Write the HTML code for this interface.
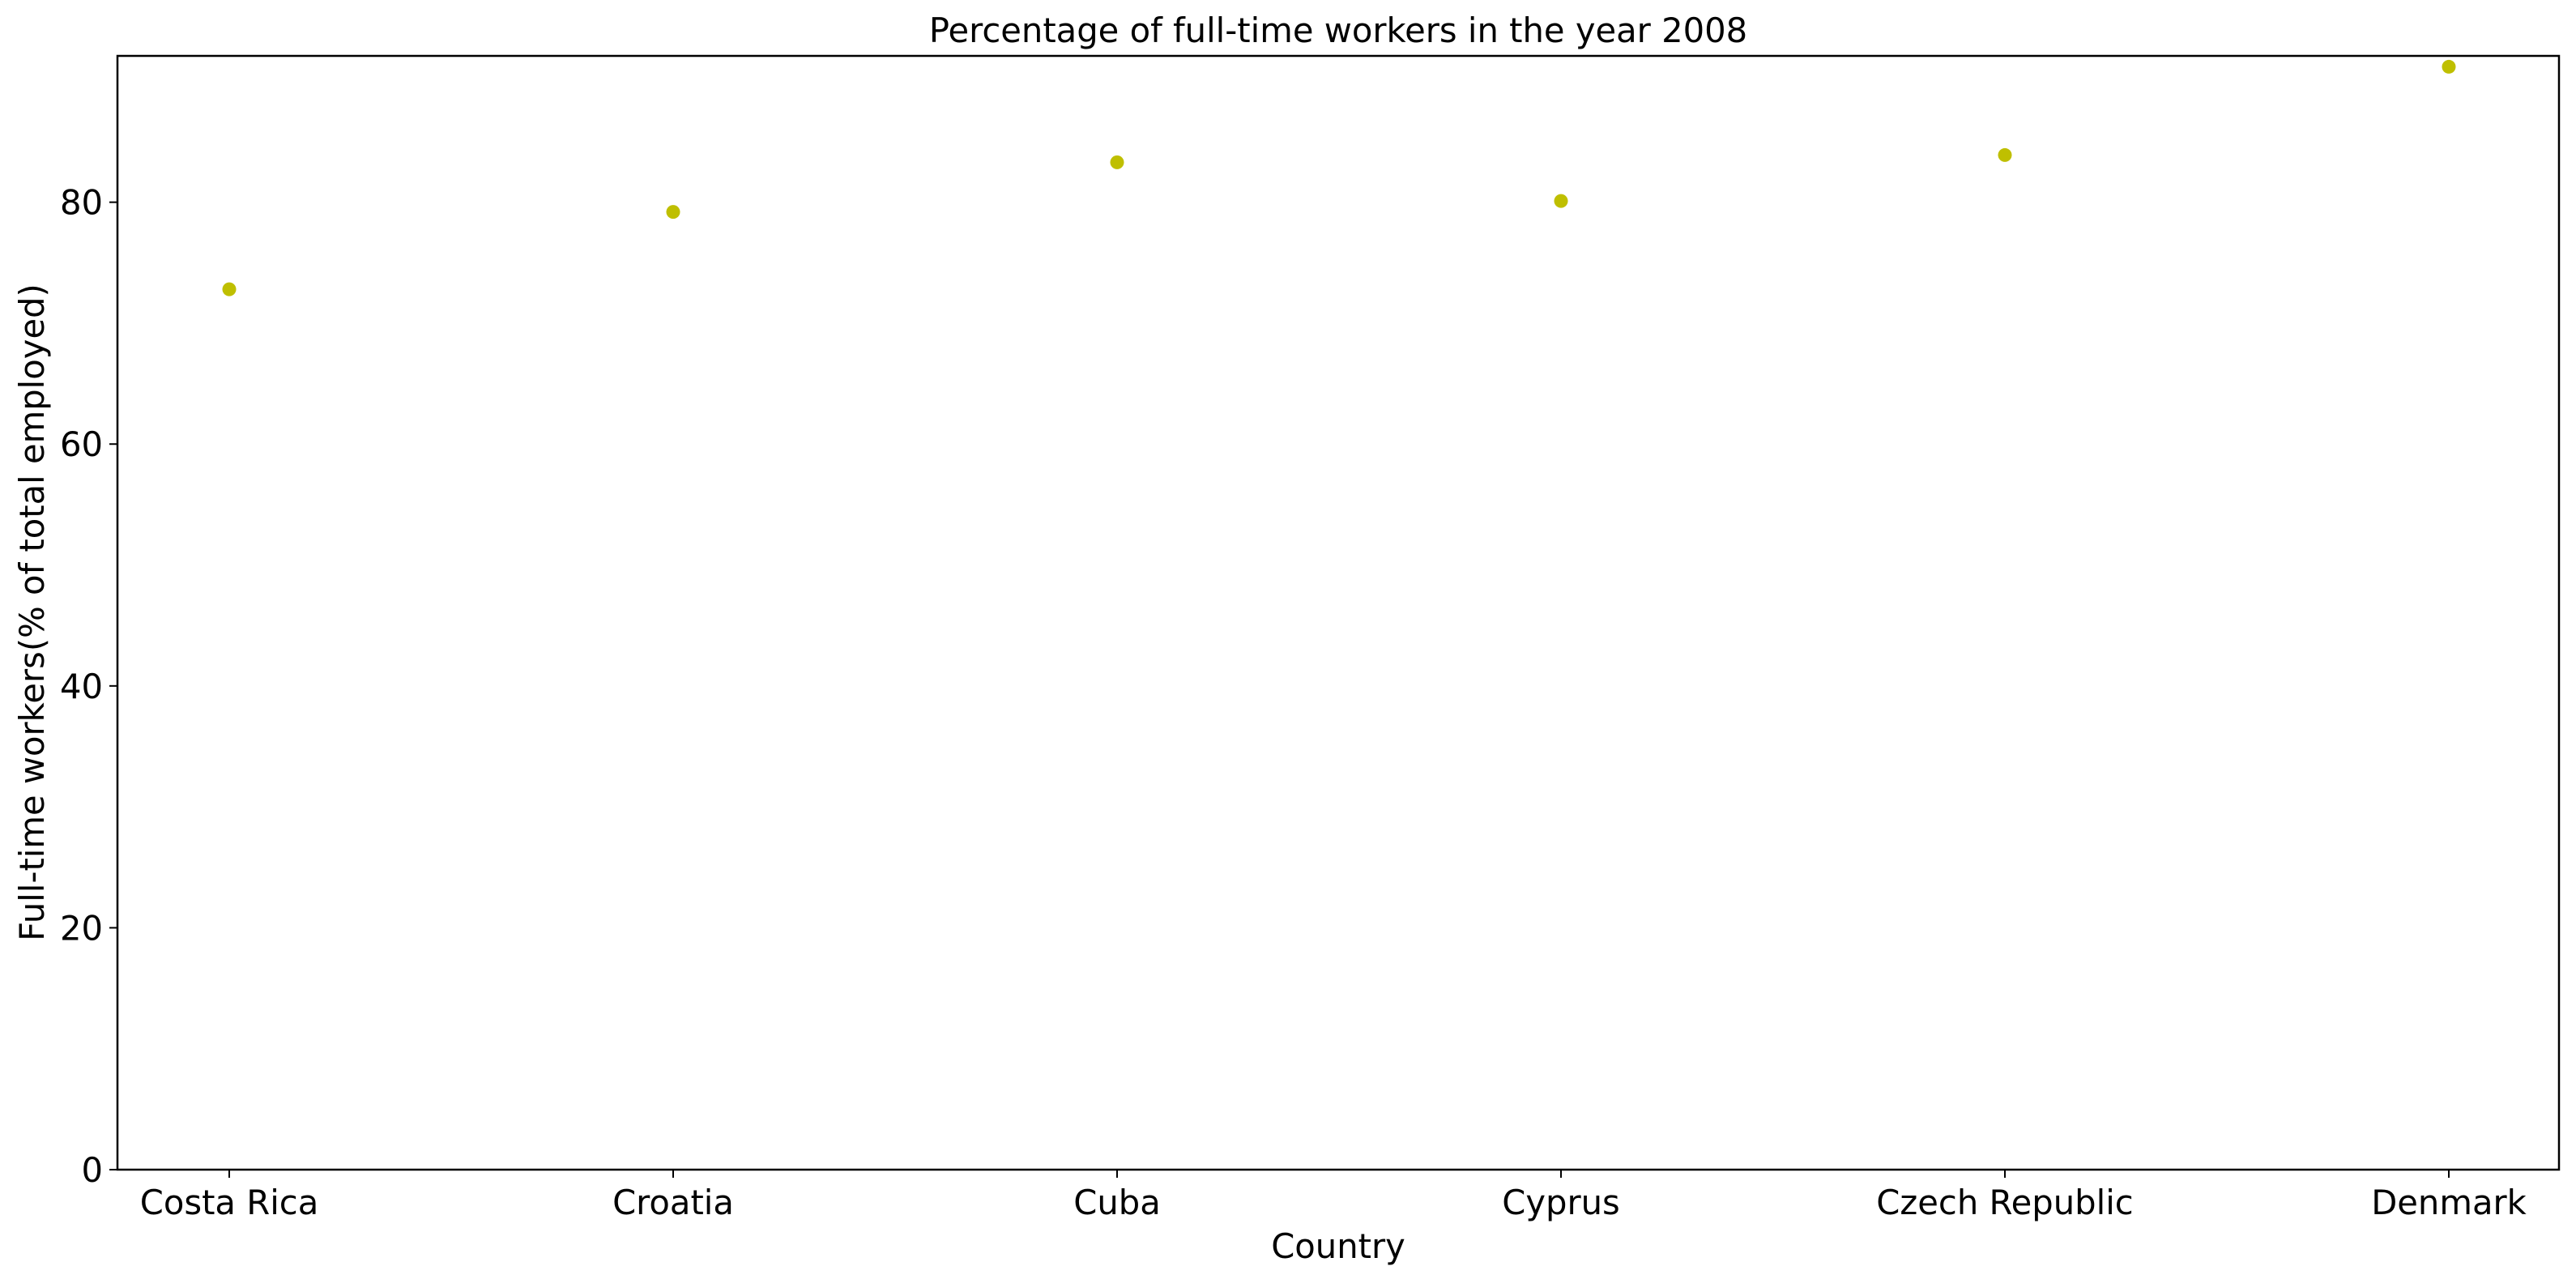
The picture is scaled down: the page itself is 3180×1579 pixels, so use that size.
<!DOCTYPE html>
<html><head><meta charset="utf-8"><style>
html,body{margin:0;padding:0;background:#fff;}
svg{display:block;font-family:"DejaVu Sans","Liberation Sans",sans-serif;}
</style></head><body>
<svg id="chart" width="3180" height="1579" viewBox="0 0 3180 1579" xmlns="http://www.w3.org/2000/svg">
<rect width="3180" height="1579" fill="#fff"/>
<text x="1652" y="52" font-size="41.7" text-anchor="middle">Percentage of full-time workers in the year 2008</text>
<g id="marks"></g>
<g id="yticks"></g>
<g id="xticks"></g>
<rect x="145" y="69" width="3014" height="1375" fill="none" stroke="#000" stroke-width="2.5"/>
<text x="1652" y="1553" font-size="41.7" text-anchor="middle">Country</text>
<text transform="translate(54,756) rotate(-90)" font-size="41.7" text-anchor="middle">Full-time workers(% of total employed)</text>
</svg>
<script>
const categories = ["Costa Rica","Croatia","Cuba","Cyprus","Czech Republic","Denmark"];
const values = [72.8, 79.2, 83.3, 80.1, 83.9, 91.2];
const yTicks = [0, 20, 40, 60, 80];

const NS = "http://www.w3.org/2000/svg";
const plotTop = 69, plotBottom = 1444;
const yMax = 92.1;
function yScale(v){ return plotBottom - v / yMax * (plotBottom - plotTop); }
function xScale(i){ return 283 + i * 548; }

const marks = document.getElementById('marks');
values.forEach((v, i) => {
  const c = document.createElementNS(NS, 'circle');
  c.setAttribute('cx', xScale(i));
  c.setAttribute('cy', yScale(v));
  c.setAttribute('r', 8.5);
  c.setAttribute('fill', '#bfbf00');
  
  
  marks.appendChild(c);
});

const yg = document.getElementById('yticks');
yTicks.forEach(t => {
  const y = yScale(t);
  const l = document.createElementNS(NS, 'line');
  l.setAttribute('x1', 135); l.setAttribute('x2', 145);
  l.setAttribute('y1', y); l.setAttribute('y2', y);
  l.setAttribute('stroke', '#000'); l.setAttribute('stroke-width', 2);
  
  
  yg.appendChild(l);
  const tx = document.createElementNS(NS, 'text');
  tx.setAttribute('x', 127); tx.setAttribute('y', y + 15);
  tx.setAttribute('font-size', 41.7); tx.setAttribute('text-anchor', 'end');
  tx.textContent = t;
  
  
  yg.appendChild(tx);
});

const xg = document.getElementById('xticks');
categories.forEach((c, i) => {
  const x = xScale(i);
  const l = document.createElementNS(NS, 'line');
  l.setAttribute('x1', x); l.setAttribute('x2', x);
  l.setAttribute('y1', 1444); l.setAttribute('y2', 1454);
  l.setAttribute('stroke', '#000'); l.setAttribute('stroke-width', 2);
  
  
  xg.appendChild(l);
  const tx = document.createElementNS(NS, 'text');
  tx.setAttribute('x', x); tx.setAttribute('y', 1499);
  tx.setAttribute('font-size', 41.7); tx.setAttribute('text-anchor', 'middle');
  tx.textContent = c;
  
  
  xg.appendChild(tx);
});
</script>
</body></html>
